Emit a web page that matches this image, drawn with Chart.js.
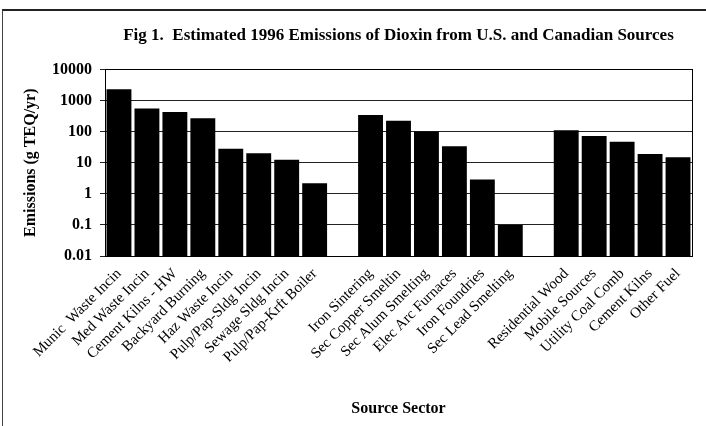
<!DOCTYPE html>
<html>
<head>
<meta charset="utf-8">
<script src="https://cdn.jsdelivr.net/npm/chart.js@4/dist/chart.umd.min.js"></script>
<style>
html,body{margin:0;padding:0;background:#fff;}
#wrap{position:relative;width:706px;height:426px;}
#frame{position:absolute;left:2px;top:9px;width:720px;height:430px;border-top:2px solid #222;border-left:1px solid #444;pointer-events:none;}
canvas{position:absolute;left:0;top:0;}
</style>
</head>
<body>
<div id="wrap">
<canvas id="c" width="706" height="426"></canvas>
<div id="frame"></div>
</div>
<script>
const categories = [
  "Munic  Waste Incin", "Med Waste Incin", "Cement Kilns - HW", "Backyard Burning",
  "Haz Waste Incin", "Pulp/Pap-Sldg Incin", "Sewage Sldg Incin", "Pulp/Pap-Krft Boiler",
  "",
  "Iron Sintering", "Sec Copper Smeltin", "Sec Alum Smelting", "Elec Arc Furnaces",
  "Iron Foundries", "Sec Lead Smelting",
  "",
  "Residential Wood", "Mobile Sources", "Utility Coal Comb", "Cement Kilns", "Other Fuel"
];
const emissions = [
  2300, 550, 430, 270, 28, 20, 12.5, 2.2,
  null,
  340, 225, 100, 34, 2.9, 0.1,
  null,
  110, 72, 47, 19, 15
];
const yTickValues = [0.01, 0.1, 1, 10, 100, 1000, 10000];
const yTickLabels = ["0.01", "0.1", "1", "10", "100", "1000", "10000"];

const serif = "'Liberation Serif', 'Times New Roman', serif";

const borderPlugin = {
  id: 'plotBorder',
  afterDraw(chart) {
    const a = chart.chartArea, ctx = chart.ctx;
    ctx.save();
    ctx.strokeStyle = '#000';
    ctx.lineWidth = 1;
    ctx.strokeRect(Math.round(a.left) + 0.5, Math.round(a.top) + 0.5,
                   Math.round(a.right - a.left), Math.round(a.bottom - a.top));
    ctx.restore();
  }
};

new Chart(document.getElementById('c'), {
  type: 'bar',
  data: {
    labels: categories,
    datasets: [{
      data: emissions,
      backgroundColor: '#000',
      borderWidth: 0,
      barPercentage: 0.89,
      categoryPercentage: 1.0
    }]
  },
  options: {
    responsive: false,
    animation: false,
    devicePixelRatio: 1,
    layout: { padding: { left: 17, right: 14, top: 0, bottom: 4 } },
    plugins: {
      legend: { display: false },
      tooltip: { enabled: false },
      title: {
        display: true,
        fullSize: false,
        text: 'Fig 1.  Estimated 1996 Emissions of Dioxin from U.S. and Canadian Sources',
        color: '#000',
        font: { family: serif, size: 17, weight: 'bold' },
        padding: { top: 25, bottom: 24 }
      }
    },
    scales: {
      x: {
        grid: { display: false, drawTicks: false },
        border: { display: true, color: '#000', width: 1 },
        ticks: {
          color: '#000',
          font: { family: serif, size: 15 },
          minRotation: 45,
          maxRotation: 45,
          autoSkip: false,
          padding: 9
        },
        title: {
          display: true,
          text: 'Source Sector',
          color: '#000',
          font: { family: serif, size: 16, weight: 'bold' },
          padding: { top: 4, bottom: 4 }
        },
        afterFit(scale) { scale.height = 166; }
      },
      y: {
        type: 'logarithmic',
        min: 0.01,
        max: 10000,
        grid: { color: '#222', lineWidth: 1, drawTicks: true, tickLength: 5 },
        border: { display: true, color: '#000', width: 1 },
        afterBuildTicks(scale) {
          scale.ticks = yTickValues.map(v => ({ value: v }));
        },
        ticks: {
          color: '#000',
          font: { family: serif, size: 16, weight: 'bold' },
          padding: 8,
          callback(value) {
            const i = yTickValues.findIndex(v => Math.abs(v - value) / v < 1e-6);
            return i >= 0 ? yTickLabels[i] : '';
          }
        },
        title: {
          display: true,
          text: 'Emissions (g TEQ/yr)',
          color: '#000',
          font: { family: serif, size: 16, weight: 'bold' },
          padding: { top: 4, bottom: 4 }
        },
        afterFit(scale) { scale.width = 88; }
      }
    }
  },
  plugins: [borderPlugin]
});
</script>
</body>
</html>
